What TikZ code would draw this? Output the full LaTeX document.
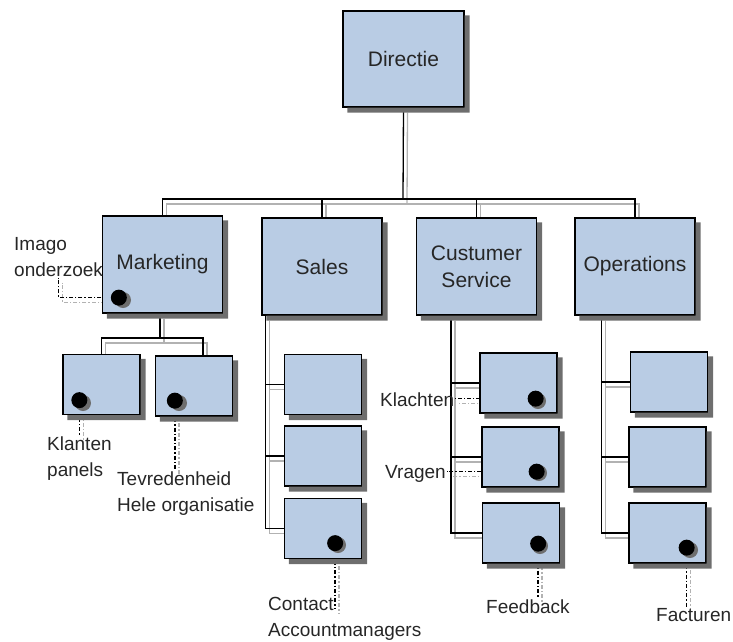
\documentclass[tikz,border=0pt]{standalone}
\usepackage{fontspec}
\setmainfont{Liberation Sans}
\usetikzlibrary{backgrounds}

\definecolor{doosblauw}{RGB}{185,204,228}
\definecolor{schaduw}{RGB}{178,178,178}
\definecolor{donker}{RGB}{110,110,110}

\tikzset{
  doos/.style={draw=black, line width=1.3pt, fill=doosblauw, inner sep=0pt,
    text=black!85, align=center, font=\fontsize{21}{27}\selectfont},
  hoofd/.style={doos, minimum width=120pt, minimum height=97pt},
  kind/.style={doos, minimum width=77pt, minimum height=60pt},
  stip/.style={circle, fill=black, minimum size=16pt, inner sep=0pt},
  lbl/.style={anchor=west, align=left, inner sep=1pt, text=black!85,
    font=\fontsize{19}{26}\selectfont},
  lijn/.style={line width=1.3pt},
  leider/.style={line width=1.4pt, dash pattern=on 4pt off 2pt on 1.4pt off 2pt},
  verschuif/.style={shift={(\sx,\sy)}},
}

\begin{document}
\begin{tikzpicture}[x=1pt, y=-1pt]
\useasboundingbox (0,0) rectangle (733,641);

% Directie en afdelingen
\node[hoofd, minimum width=121pt, minimum height=96pt] (dir) at (403.5,59) {Directie};
\node[hoofd] (mkt) at (162.5,264.5) {Marketing};
\node[hoofd] (sal) at (322,266.5) {Sales};
\node[hoofd] (cs) at (476.5,266.5) {Custumer\\Service};
\node[hoofd] (ops) at (635,266.5) {Operations};

% onderdelen
\node[kind] (mkt1) at (101.5,384.5) {};
\node[kind] (mkt2) at (194,386) {};
\node[kind] (sal1) at (323,384.5) {};
\node[kind] (sal2) at (323,456) {};
\node[kind] (sal3) at (323,528.5) {};
\node[kind] (cs1) at (518.5,383) {};
\node[kind] (cs2) at (520.5,457) {};
\node[kind] (cs3) at (521,533) {};
\node[kind] (ops1) at (669,382) {};
\node[kind] (ops2) at (667.5,457) {};
\node[kind] (ops3) at (667.5,533) {};

% schaduwranden van de dozen (midden x/y, breedte, hoogte)
\foreach \mx/\my/\bw/\bh in {403.5/59/122.4/97.4, 162.5/264.5/121.4/98.4, 322/266.5/121.4/98.4,
    476.5/266.5/121.4/98.4, 635/266.5/121.4/98.4, 101.5/384.5/78.4/61.4, 194/386/78.4/61.4,
    323/384.5/78.4/61.4, 323/456/78.4/61.4, 323/528.5/78.4/61.4, 518.5/383/78.4/61.4,
    520.5/457/78.4/61.4, 521/533/78.4/61.4, 669/382/78.4/61.4, 667.5/457/78.4/61.4, 667.5/533/78.4/61.4}
  \fill[donker] (\mx-\bw/2+5, \my+\bh/2) -- (\mx+\bw/2, \my+\bh/2) -- (\mx+\bw/2, \my-\bh/2+5)
    -- (\mx+\bw/2+5, \my-\bh/2+5) -- (\mx+\bw/2+5, \my+\bh/2+5) -- (\mx-\bw/2+5, \my+\bh/2+5) -- cycle;

% schaduwen van de stippen
\foreach \mx/\my in {120/297, 80/400, 176/400, 335/542, 535/398, 536/470, 537/543, 687/547}
  \fill[donker] (\mx+3, \my+3) circle (8pt);

% stippen
\node[stip] (dmkt) at ([shift={(17,-16)}]mkt.south west) {};
\node[stip] (dmkt1) at ([shift={(17,-15)}]mkt1.south west) {};
\node[stip] (dmkt2) at ([shift={(20,-16)}]mkt2.south west) {};
\node[stip] (dsal3) at ([shift={(-27,-16)}]sal3.south east) {};
\node[stip] (dcs1) at ([shift={(-22,-15)}]cs1.south east) {};
\node[stip] (dcs2) at ([shift={(-23,-16)}]cs2.south east) {};
\node[stip] (dcs3) at ([shift={(-22,-20)}]cs3.south east) {};
\node[stip] (dops3) at ([shift={(-20,-16)}]ops3.south east) {};

% teksten
\node[lbl] (imago) at (13,257) {Imago\\onderzoek};
\node[lbl] (klanten) at (46,459) {Klanten\\panels};
\node[lbl] (tevr) at (116,494) {Tevredenheid\\Hele organisatie};
\node[lbl] (contact) at (267,619) {Contact\\Accountmanagers};
\node[lbl] (klachten) at (379,400) {Klachten};
\node[lbl] (vragen) at (384,474) {Vragen};
\node[lbl] (feedback) at (485,607) {Feedback};
\node[lbl] (facturen) at (655,615) {Facturen};

% hulppunten
\coordinate (bus) at (403,199);
\coordinate (mktbus) at (160,338);
\coordinate (salbar) at ([xshift=4pt]sal.south west);
\coordinate (csbar) at ([xshift=35pt]cs.south west);
\coordinate (opsbar) at ([xshift=27pt]ops.south west);

\begin{pgfonlayer}{background}
% lijnen (eerst schaduw, dan zwart)
\foreach \sx/\sy/\kl in {4/5/schaduw, 0/0/black} {
  \draw[lijn, draw=\kl] ([verschuif]dir.south) -- ([verschuif]bus);
  \draw[lijn, draw=\kl] ([verschuif]mkt.north) |- ([verschuif]bus) -| ([verschuif]ops.north);
  \draw[lijn, draw=\kl] ([verschuif]sal.north) -- ([verschuif]sal.north |- bus);
  \draw[lijn, draw=\kl] ([verschuif]cs.north) -- ([verschuif]cs.north |- bus);

  \draw[lijn, draw=\kl] ([verschuif]mktbus |- mkt.south) -- ([verschuif]mktbus);
  \draw[lijn, draw=\kl] ([verschuif]mkt1.north) |- ([verschuif]mktbus) -| ([shift={(9+\sx,\sy)}]mkt2.north);

  \draw[lijn, draw=\kl] ([verschuif]salbar) |- ([verschuif]sal3.west);
  \draw[lijn, draw=\kl] ([verschuif]salbar |- sal1.west) -- ([verschuif]sal1.west);
  \draw[lijn, draw=\kl] ([verschuif]salbar |- sal2.west) -- ([verschuif]sal2.west);

  \draw[lijn, draw=\kl] ([verschuif]csbar) |- ([verschuif]cs3.west);
  \draw[lijn, draw=\kl] ([verschuif]csbar |- cs1.west) -- ([verschuif]cs1.west);
  \draw[lijn, draw=\kl] ([verschuif]csbar |- cs2.west) -- ([verschuif]cs2.west);

  \draw[lijn, draw=\kl] ([verschuif]opsbar) |- ([verschuif]ops3.west);
  \draw[lijn, draw=\kl] ([verschuif]opsbar |- ops1.west) -- ([verschuif]ops1.west);
  \draw[lijn, draw=\kl] ([verschuif]opsbar |- ops2.west) -- ([verschuif]ops2.west);

  \draw[leider, draw=\kl] ([verschuif]dmkt.west) -| ([verschuif]imago.south);
  \draw[leider, draw=\kl] ([verschuif]dmkt1.south) -- ([verschuif]dmkt1.south |- klanten.north);
  \draw[leider, draw=\kl] ([verschuif]dmkt2.south) -- ([verschuif]dmkt2.south |- tevr.north);
  \draw[leider, draw=\kl] ([verschuif]dsal3.south) -- ([shift={(\sx,\sy+12)}]dsal3.south |- contact.north);
  \draw[leider, draw=\kl] ([verschuif]dcs1.west) -- ([verschuif]dcs1.west -| klachten.east);
  \draw[leider, draw=\kl] ([verschuif]dcs2.west) -- ([verschuif]dcs2.west -| vragen.east);
  \draw[leider, draw=\kl] ([verschuif]dcs3.south) -- ([verschuif]dcs3.south |- feedback.north);
  \draw[leider, draw=\kl] ([verschuif]dops3.south) -- ([verschuif]dops3.south |- facturen.north);
}
\end{pgfonlayer}

\end{tikzpicture}
\end{document}
